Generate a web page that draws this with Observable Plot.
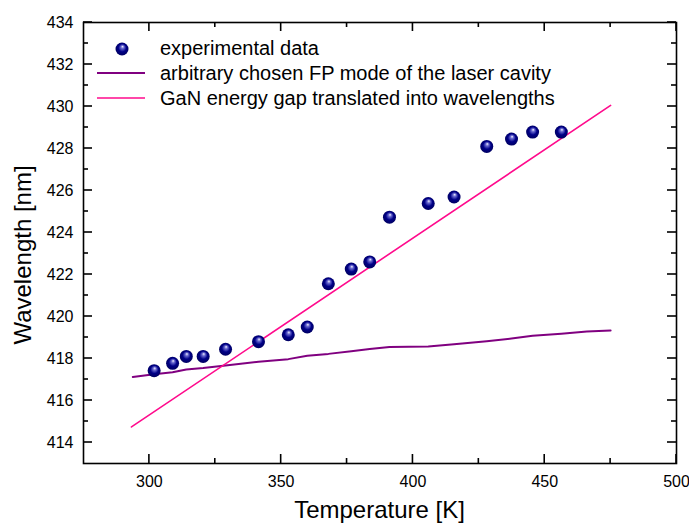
<!DOCTYPE html>
<html><head><meta charset="utf-8">
<script src="https://cdn.jsdelivr.net/npm/d3@7"></script>
<script src="https://cdn.jsdelivr.net/npm/@observablehq/plot@0.6"></script>
<style>body{margin:0;background:#fff} svg{display:block}</style>
</head><body><div id="chart"></div>
<script>
// experimental data
const expT = [301.8, 308.8, 314.0, 320.4, 328.9, 341.4, 352.7, 359.9, 367.9, 376.6, 383.6, 391.1, 405.8, 415.6, 428.0, 437.4, 445.4, 456.3];
const expW = [417.42, 417.77, 418.10, 418.10, 418.44, 418.80, 419.13, 419.50, 421.56, 422.26, 422.60, 424.73, 425.38, 425.69, 428.10, 428.45, 428.78, 428.78];
// FP mode line
const fpT = [293.7, 301.8, 308.8, 314.0, 320.4, 328.9, 341.4, 352.7, 359.9, 367.9, 376.6, 383.6, 391.1, 405.8, 415.6, 428.0, 437.4, 445.4, 456.3, 466.0, 475.0];
const fpW = [417.12, 417.25, 417.35, 417.48, 417.55, 417.67, 417.85, 417.97, 418.13, 418.22, 418.35, 418.45, 418.55, 418.57, 418.68, 418.82, 418.95, 419.08, 419.18, 419.28, 419.33];
// GaN energy gap line
const gapT = [293.2, 475.0];
const gapW = [414.74, 430.05];
// ticks
const xTicks = [300, 350, 400, 450, 500];
const xMinor = [325, 375, 425, 475];
const yTicks = [414, 416, 418, 420, 422, 424, 426, 428, 430, 432, 434];
const yMinor = [415, 417, 419, 421, 423, 425, 427, 429, 431, 433];
const legendLabels = ["experimental data", "arbitrary chosen FP mode of the laser cavity", "GaN energy gap translated into wavelengths"];
const xTitle = "Temperature [K]";
const yTitle = "Wavelength [nm]";

const exp = expT.map((t, i) => ({t, w: expW[i]}));
const fp = fpT.map((t, i) => ({t, w: fpW[i]}));
const gap = gapT.map((t, i) => ({t, w: gapW[i]}));

const W = 689, H = 525, ML = 83, MR = 13, MT = 22, MB = 62;
const MAJ = 9, MIN = 5, TW = 1.6;
const F = "'Liberation Sans', Arial, Helvetica, sans-serif";
const plot = Plot.plot({
  width: W, height: H,
  marginLeft: ML, marginRight: MR, marginTop: MT, marginBottom: MB,
  style: {fontFamily: F, fontSize: "16px", color: "#000", background: "#fff"},
  x: {domain: [275, 500]},
  y: {domain: [413, 434]},
  marks: [
    Plot.line(fp, {x: "t", y: "w", stroke: "#800080", strokeWidth: 2}),
    Plot.line(gap, {x: "t", y: "w", stroke: "#ff0a8c", strokeWidth: 1.6}),
    Plot.dot(exp, {x: "t", y: "w", r: 6.5, fill: "url(#ball)", stroke: null}),
    Plot.axisX(xTicks, {anchor: "bottom", tickSize: 0, tickPadding: 12, label: null, fontSize: 16}),
    Plot.axisY(yTicks, {anchor: "left", tickSize: 0, tickPadding: 10, label: null, fontSize: 16}),
    Plot.frame({stroke: "#000", strokeWidth: 1.6})
  ]
});

const svg = d3.select(plot);
const defs = svg.insert("defs", ":first-child");
const g = defs.append("radialGradient").attr("id", "ball")
  .attr("cx", "50%").attr("cy", "50%").attr("r", "55%")
  .attr("fx", "55%").attr("fy", "30%");
g.append("stop").attr("offset", "0%").attr("stop-color", "#f4f4ff");
g.append("stop").attr("offset", "22%").attr("stop-color", "#6a6ad0");
g.append("stop").attr("offset", "55%").attr("stop-color", "#000088");
g.append("stop").attr("offset", "100%").attr("stop-color", "#00005a");

// inward ticks on all four sides, placed through the plot's own scales
const sx = plot.scale("x"), sy = plot.scale("y");
const x0 = ML, x1 = W - MR, y0 = MT, y1 = H - MB;
const tk = svg.append("g").attr("stroke", "#000").attr("stroke-width", TW).attr("fill", "none");
function xt(vals, len) {
  vals.forEach(v => {
    const px = sx.apply(v);
    tk.append("line").attr("x1", px).attr("x2", px).attr("y1", y1).attr("y2", y1 - len);
    tk.append("line").attr("x1", px).attr("x2", px).attr("y1", y0).attr("y2", y0 + len);
  });
}
function yt(vals, len) {
  vals.forEach(v => {
    const py = sy.apply(v);
    tk.append("line").attr("y1", py).attr("y2", py).attr("x1", x0).attr("x2", x0 + len);
    tk.append("line").attr("y1", py).attr("y2", py).attr("x1", x1).attr("x2", x1 - len);
  });
}
xt(xTicks, MAJ); xt(xMinor, MIN); yt(yTicks, MAJ); yt(yMinor, MIN);

// legend
const lg = svg.append("g").attr("font-family", F).attr("font-size", 20).attr("fill", "#000").attr("text-anchor", "start");
lg.append("circle").attr("cx", 122).attr("cy", 49).attr("r", 6.5).attr("fill", "url(#ball)");
lg.append("line").attr("x1", 97).attr("x2", 145).attr("y1", 73).attr("y2", 73).attr("stroke", "#800080").attr("stroke-width", 2);
lg.append("line").attr("x1", 97).attr("x2", 145).attr("y1", 98).attr("y2", 98).attr("stroke", "#ff0a8c").attr("stroke-width", 1.6);
legendLabels.forEach((s, i) => {
  lg.append("text").attr("x", 160).attr("y", 55 + 25 * i).attr("text-anchor", "start").text(s);
});

// axis titles
svg.append("text").attr("x", 379.5).attr("y", 518).attr("text-anchor", "middle")
  .attr("font-family", F).attr("font-size", 24).attr("fill", "#000").text(xTitle);
svg.append("text").attr("transform", "translate(31,255) rotate(-90)").attr("text-anchor", "middle")
  .attr("font-family", F).attr("font-size", 24).attr("fill", "#000").text(yTitle);

document.getElementById("chart").appendChild(plot);
</script>
</body></html>
